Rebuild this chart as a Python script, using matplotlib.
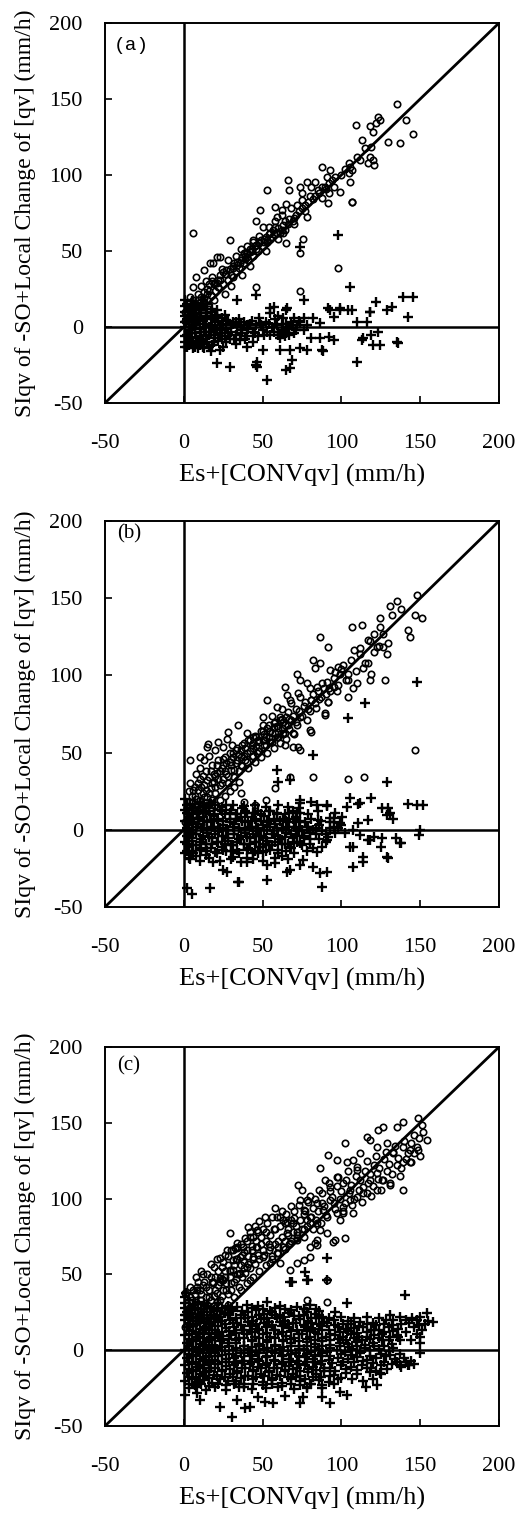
import numpy as np
import matplotlib
matplotlib.use("Agg")
import matplotlib.pyplot as plt

plt.rcParams["font.family"] = ["Liberation Serif", "DejaVu Serif"]
plt.rcParams["axes.unicode_minus"] = False

ticks = [-50, 0, 50, 100, 150, 200]
xlabel = "Es+[CONVqv] (mm/h)"
ylabel = "SIqv of -SO+Local Change of [qv] (mm/h)"
tags = ["(a)", "(b)", "(c)"]

# ---- panel (a) ----
a_circles = [
    (135, 147), (123.5, 138), (122, 134), (109, 133), (118, 132), (120, 128.5), (124.5, 136), (141, 136),
    (145.7, 127), (129.8, 122), (137, 121), (113, 123), (119, 118.6), (118, 112), (120, 110), (117, 108),
    (121, 106.6), (112, 110), (105.5, 105.5), (105, 101), (105.5, 95.6), (106.5, 82.5), (99, 89), (95, 92),
    (87.5, 105.5), (93, 103), (90.7, 99), (92, 88), (89.6, 92), (87.5, 84.6), (78, 95.6), (81, 92),
    (83, 95.6), (74, 92), (74.7, 88), (75, 83.5), (77, 80), (78, 72.6), (66, 96.7), (67, 90),
    (65, 81), (62, 77), (58, 79), (59, 72.6), (52.6, 90), (48.4, 77), (46, 70), (50.5, 66),
    (56.9, 63.8), (63, 61.6), (65, 55), (75.9, 58), (74, 48.5), (52.6, 57), (44, 57), (40, 53),
    (42, 49.6), (38, 48.5), (29.4, 57), (21, 46), (18.8, 42), (6, 61.6), (23, 46), (16.7, 42),
    (12.5, 37.5), (8, 33), (6, 26.5), (4, 20), (2, 15.6), (21, 28.7), (31.5, 33), (27, 37.5),
    (35.7, 42), (40, 46), (14.6, 22), (19, 17.8), (10, 13.4), (46, 26.5), (98, 38.6), (74, 24),
    (91.5, 81.6), (106.5, 82.4), (5, 8), (8, 10), (10, 14), (12, 16), (15, 18), (17, 21),
    (20, 24), (22, 26), (25, 28), (28, 31), (30, 34), (33, 37), (35, 39), (38, 42),
    (41, 44), (44, 47), (47, 50), (50, 53), (53, 56), (56, 59), (59, 62), (62, 64),
    (66, 68), (70, 72), (3, 12), (6, 18), (9, 22), (11, 27), (14, 30), (18, 33),
    (24, 38), (28, 44), (33, 47), (36, 51), (44, 56), (48, 60), (54, 66), (58, 70),
    (62, 74), (68, 78), (72, 80), (80, 86), (85, 90), (2, 4), (4, 6), (7, 5),
    (12, 8), (16, 12), (26, 22), (30, 27), (37, 34), (42, 40), (52, 50), (60, 58),
    (70, 68), (82, 84), (92, 95), (100, 100), (110, 112), (115, 118), (1, 10), (3, 16),
    (7, 14), (13, 19), (16, 24), (19, 28), (23, 31), (26, 35), (31, 39), (34, 43),
    (39, 47), (43, 51), (46, 54), (51, 58), (55, 62), (58, 66), (64, 70), (1, 4),
    (2, 8), (4, 10), (5, 14), (7, 16), (9, 18), (11, 20), (13, 23), (15, 25),
    (16, 28), (18, 30), (20, 29), (22, 31), (23, 34), (25, 36), (27, 35), (29, 38),
    (31, 40), (32, 42), (34, 41), (36, 44), (37, 46), (39, 45), (40, 49), (42, 51),
    (43, 50), (45, 53), (46, 51), (48, 55), (49, 57), (51, 56), (52, 59), (54, 61),
    (55, 58), (57, 61), (60, 65), (61, 62), (63, 67), (64, 64), (67, 71), (69, 70),
    (71, 74), (73, 76), (75, 78), (77, 76), (79, 82), (83, 86), (86, 88), (88, 92),
    (90, 91), (94, 97), (96, 99), (102, 104), (105, 108), (107, 103),
]
a_pluses = [
    (98, 60.5), (74, 52.8), (105.5, 26.5), (76, 17.8), (122, 16.7), (139, 20), (145.7, 20), (128.7, 11),
    (118, 10), (104.4, 11), (99, 11), (93, 11), (95, 6.8), (142.5, 6.8), (65, 11), (54.8, 12.3),
    (33.6, 17.8), (110, 3.5), (116, 3.5), (119, -5.3), (114, -7.5), (120, -11.8), (124.5, -11.8), (135, -9.6),
    (110, -22.8), (92, -6.4), (95, -8.5), (86.5, -7.5), (81, -7.5), (78, -15), (74, -14), (87.5, -15),
    (67.4, -15), (68.5, -21.7), (67.4, -27), (52.6, -34.9), (46.3, -22.8), (46.3, -26), (29.4, -26), (21, -24),
    (23, -15), (12.5, -14), (10.3, -11.8), (2, -13), (61, -15), (50.5, -15), (40, -13), (35.7, -8.5),
    (86.5, 2.4), (82, 5.7), (76, 5.7), (74, 3.5), (67, 0.2), (65, -4), (60, -5.3), (52.6, -3),
    (48.4, 2.4), (40, 1.3), (31.5, 3.5), (27, 4.6), (21, 6.8), (14.6, 6.8), (10.3, 9), (46, 21),
    (132, 13.4), (88.5, -15.6), (112.9, -8.6), (123.4, -3), (65.3, 12.3), (91.8, 12.3), (99.2, 12.3), (106.6, 11.2),
    (118.2, 10), (136.2, -10.8), (45.8, -24.8), (65, -28),
    (1, -10), (2, -5), (1, 0), (2, 5), (1, 10), (2, 15), (3, -12), (4, -7),
    (4, -2), (3, 3), (4, 8), (5, 13), (6, -14), (6, -9), (7, -4), (6, 1),
    (7, 6), (8, 11), (8, 16), (9, -11), (10, -6), (10, -1), (9, 4), (10, 9),
    (11, 14), (12, -13), (12, -8), (13, -3), (13, 2), (14, 7), (14, 12), (15, -10),
    (16, -5), (16, 0), (17, 5), (17, 10), (18, -12), (19, -7), (19, -2), (20, 3),
    (21, 8), (22, -9), (23, -4), (23, 1), (24, 6), (26, -6), (27, -1), (28, 4),
    (29, -8), (30, -3), (31, 2), (33, -5), (34, 0), (35, 5), (37, -2), (38, 3),
    (40, -6), (41, -1), (43, 4), (45, -4), (46, 1), (48, 6), (50, -2), (52, 3),
    (55, -5), (56, 0), (58, 5), (60, -3), (62, 2), (64, -6), (66, -1), (68, 3),
    (70, -4), (72, 1), (55, 9), (57, 13), (44, -10), (33, -11), (25, -13), (17, -16),
    (1, -13), (1, -6), (1, 3), (1, 7), (1, 14), (1, 18), (3, -9), (3, 0),
    (3, 6), (3, 12), (5, -11), (5, -4), (5, 4), (5, 10), (5, 17), (7, -13),
    (7, -1), (7, 9), (7, 14), (8, -7), (8, 2), (9, -14), (10, 5), (10, 13),
    (11, -9), (11, -3), (11, 11), (12, 4), (12, 18), (13, -11), (14, -6), (14, 0),
    (15, 9), (15, 15), (16, -13), (17, -3), (17, 7), (18, 1), (18, 12), (19, -10),
    (20, -5), (20, 6), (21, -1), (21, 11), (22, 4), (24, -8), (24, -2), (25, 2),
    (26, 8), (27, -10), (28, -4), (30, 1), (32, -8), (33, 3), (36, -4), (36, 1),
    (39, -8), (42, 2), (44, -3), (47, -6), (49, 1), (51, -5), (54, 2), (57, -3),
    (59, 1), (61, -7), (63, -2), (65, 2), (67, -5), (69, 1), (71, -2), (73, 4),
    (76, -2), (78, 1), (60, 7), (63, 6), (70, 6),
]

# ---- panel (b) ----
b_circles = [
    (147.8, 152), (135, 148), (131, 145), (138, 143), (124.5, 137), (132, 139), (124.5, 131.6), (126.6, 127),
    (121, 127), (117, 123), (106.6, 131.6), (113, 132.6), (142.5, 129.4), (143.5, 125), (151, 137), (146.7, 139),
    (107.7, 116.5), (112, 117.5), (122.4, 118.6), (126.6, 118.6), (128.7, 114), (129.8, 120.7), (117, 107.8), (114, 104.5),
    (119, 101), (127.7, 97), (118, 97), (104.4, 97), (109.7, 94.9), (107.5, 91.6), (104.4, 86.3), (98, 105.7),
    (99, 101), (93, 103.5), (86.5, 125), (91.8, 118.6), (95, 92.7), (91.8, 83), (81, 84), (89.6, 75.4),
    (80, 64.7), (84.4, 92.7), (78, 94.9), (83, 104.5), (86.5, 107.8), (82, 110), (74, 97), (71.6, 101),
    (72.7, 88.4), (67.4, 84), (64.3, 92.7), (65.4, 87.3), (59, 79.8), (52.6, 84), (61, 73.3), (57, 66.8),
    (51.6, 58), (63.2, 62.5), (69.5, 62.5), (69.5, 53.8), (74, 51.6), (64.3, 55), (44, 56), (46.3, 49.5),
    (40, 62.5), (34.7, 67.8), (28.3, 63.5), (27.3, 59), (22, 57), (14.6, 53.8), (10.4, 47.4), (4, 45),
    (146.7, 51.6), (15.6, 55.3), (25, 53.8), (30.4, 55), (50.4, 73), (81, 63.5), (82.2, 34.4), (104.4, 33),
    (114.3, 34.4), (67.4, 34.4), (58, 26.9), (72.7, 53.8), (89.6, 74.4), (91.7, 83),
    (2, 10), (3, 18), (5, 22), (4, 30), (6, 14), (8, 20), (9, 26), (10, 33),
    (11, 17), (12, 24), (13, 29), (14, 38), (15, 21), (16, 34), (17, 27), (18, 42),
    (19, 31), (20, 24), (21, 37), (22, 45), (23, 29), (24, 40), (25, 33), (26, 47),
    (27, 36), (28, 30), (29, 44), (30, 39), (31, 50), (32, 34), (33, 43), (34, 53),
    (35, 38), (36, 47), (37, 41), (38, 56), (39, 45), (40, 50), (41, 40), (42, 58),
    (43, 48), (44, 53), (45, 44), (46, 60), (47, 51), (48, 57), (49, 47), (50, 64),
    (51, 55), (52, 60), (53, 50), (54, 68), (55, 57), (56, 63), (57, 53), (58, 70),
    (59, 60), (60, 66), (61, 56), (62, 72), (63, 62), (64, 68), (65, 59), (66, 76),
    (67, 65), (68, 71), (70, 62), (71, 78), (72, 68), (74, 73), (76, 80), (78, 71),
    (80, 77), (82, 88), (84, 79), (86, 85), (88, 95), (90, 88), (92, 92), (95, 98),
    (97, 90), (100, 104), (103, 97), (106, 110), (109, 103), (112, 114), (115, 108), (118, 122),
    (121, 115), (124, 119), (3, 6), (6, 9), (9, 12), (12, 15), (15, 16), (18, 19),
    (7, 28), (10, 40), (13, 45), (16, 48), (8, 36), (20, 52), (11, 4), (14, 8),
    (17, 12), (20, 16), (23, 19), (26, 22), (29, 25), (32, 28), (35, 31), (20, 35),
    (25, 42), (30, 46), (36, 52), (44, 60), (50, 68), (56, 74), (62, 78), (68, 82),
    (74, 86), (80, 92), (38, 18), (45, 16), (52, 19), (36, 24),
    (1, 5), (2, 14), (3, 25), (4, 12), (5, 18), (6, 26), (7, 10), (7, 22),
    (8, 15), (9, 30), (10, 19), (11, 28), (12, 35), (13, 21), (14, 26), (15, 32),
    (16, 24), (17, 38), (18, 30), (19, 36), (20, 28), (21, 42), (22, 33), (23, 38),
    (24, 30), (25, 46), (26, 38), (27, 43), (28, 35), (29, 50), (30, 42), (31, 47),
    (32, 39), (33, 52), (34, 45), (35, 49), (36, 42), (37, 55), (38, 48), (39, 53),
    (40, 44), (41, 58), (42, 51), (43, 55), (44, 48), (45, 61), (46, 54), (47, 58),
    (48, 51), (49, 64), (50, 58), (51, 62), (52, 55), (53, 66), (54, 60), (55, 64),
    (56, 57), (57, 69), (58, 63), (59, 67), (60, 60), (61, 71), (62, 66), (63, 70),
    (64, 63), (65, 73), (66, 68), (67, 72), (69, 74), (71, 70), (73, 77), (75, 74),
    (77, 83), (79, 78), (81, 84), (83, 82), (85, 90), (87, 86), (89, 92), (91, 96),
    (93, 90), (96, 102), (98, 94), (101, 107), (104, 101),
]
b_pluses = [
    (147.8, 95.9), (115, 81.9), (104.4, 72.2), (82, 48.4), (58.9, 38.7), (60, 31.2), (67.4, 32.2), (128.7, 31.2),
    (105.5, 20.4), (110.7, 17), (119, 20.4), (129.8, 13.9), (142.5, 17), (81, 18.2), (73.7, 19.3), (90.6, 15.3),
    (85.4, 6.3), (92.7, 7.4), (99, 4.2), (107.5, -0.1), (111.9, -3.4), (118, -6.6), (107.5, -10.9), (114, -20.7),
    (107.5, -23.9), (129.8, -18.5), (137, -8.8), (125.5, -5.5), (90.6, -6.6), (84.3, -14.2), (75.8, -19.6), (90.6, -27.1),
    (87.4, -36.8), (65.3, -27.1), (52.6, -32.5), (35, -33.6), (25.1, -26), (16.6, -37.9), (1.8, -37.9), (18.7, -20.7),
    (52.6, -22.8), (57.8, -21.7), (39.9, -18.5), (31.4, -17.4), (73.7, -8.8), (82.2, -12), (48.4, -10.9), (71.6, 10.6),
    (147.8, 16), (152, 16), (150, -0.1), (149, -3.4), (128.7, -17.4), (114, -17.4), (138, -8.8), (134.8, -5.5),
    (125.3, -10.9), (120.7, -4.4), (116.6, -6.6), (105.5, -10.9), (128.7, 9.6), (125.5, 13.9), (111.8, 17.1), (103.4, 15),
    (110.8, 4.2), (117.1, 6.3), (100.2, 8.5), (95, 7.4), (92.8, 5.3), (91.7, -4.4), (87.5, -10.9), (86.5, -28.2),
    (82.2, -23.9), (90.7, 16), (84.3, 16), (73.7, 17.1), (67.4, -10.9), (34.7, -33.6), (27.5, -27.1), (5.2, -41.3),
    (74, -22.8), (67.4, -26.1), (40, -20.6), (131, 11), (133, 7), (98, 1), (102, -2),
    (1, -15), (1, -8), (1, -1), (1, 6), (1, 13), (1, 20), (3, -18), (3, -11),
    (3, -4), (3, 3), (3, 10), (4, 17), (5, -14), (5, -7), (6, 0), (6, 7),
    (6, 14), (8, -17), (8, -10), (8, -3), (9, 4), (9, 11), (10, 18), (11, -13),
    (11, -6), (12, 1), (12, 8), (13, 15), (14, -16), (14, -9), (15, -2), (15, 5),
    (16, 12), (17, -12), (18, -5), (18, 2), (19, 9), (20, 16), (21, -15), (21, -8),
    (22, -1), (22, 6), (23, 13), (24, -11), (25, -4), (25, 3), (26, 10), (27, -14),
    (28, -7), (28, 0), (29, 7), (30, 13), (31, -10), (32, -3), (32, 4), (33, 10),
    (34, -13), (35, -6), (35, 1), (36, 8), (37, 14), (38, -9), (39, -2), (39, 5),
    (40, 11), (41, -12), (42, -5), (42, 2), (43, 8), (44, -15), (45, -8), (46, -1),
    (46, 6), (47, 12), (48, -11), (49, -4), (50, 3), (51, 9), (52, -14), (53, -7),
    (53, 0), (54, 6), (55, 12), (56, -10), (57, -3), (58, 4), (59, 10), (60, -13),
    (61, -6), (62, 1), (63, 7), (64, -9), (65, -2), (66, 5), (67, 11), (68, -12),
    (69, -5), (70, 2), (71, 8), (72, -8), (73, -1), (74, 5), (76, -4), (78, 2),
    (80, -6), (82, 0), (84, -3), (86, 3), (88, -1), (90, -8), (93, 1), (96, -2),
    (100, 3), (4, -2), (10, -12), (16, 17), (27, 16), (47, -15), (62, -17), (78, -14),
    (2, 16), (7, 17), (12, 15.5), (17, 16.5), (24, 15), (31, 16), (38, 15.5), (45, 16),
    (52, 15), (60, 16), (66, 15), (73, 14),
    (2, 11), (5, 10), (9, 12), (14, 11), (19, 10.5), (24, 12), (29, 11), (34, 10),
    (39, 12), (44, 11), (49, 10.5), (54, 12), (59, 11), (64, 10), (69, 12), (74, 11),
    (79, 10), (85, 12), (96, 11),
    (2, 6), (5, 5), (9, 7), (13, 6), (17, 5.5), (21, 7), (25, 6), (29, 5),
    (33, 7), (37, 6), (41, 5.5), (45, 7), (49, 6), (53, 5), (57, 7), (61, 6),
    (65, 5.5), (69, 7), (73, 6), (77, 5), (81, 7), (87, 6), (95, 5),
    (2, 1), (5, 0), (8, 2), (11, 1), (15, 0.5), (19, 2), (23, 1), (27, 0),
    (31, 2), (35, 1), (39, 0.5), (43, 2), (47, 1), (51, 0), (55, 2), (59, 1),
    (63, 0.5), (67, 2), (71, 1), (75, 0), (79, 2), (84, 1), (90, -3), (95, 2),
    (2, -4), (5, -5), (8, -3), (12, -4), (16, -4.5), (20, -3), (24, -4), (28, -5),
    (32, -3), (36, -4), (40, -4.5), (44, -3), (48, -4), (52, -5), (56, -3), (60, -4),
    (64, -4.5), (68, -3), (72, -4), (76, -5), (80, -2), (86, -6),
    (2, -9), (6, -10), (10, -8), (14, -9), (18, -9.5), (22, -8), (26, -9), (30, -10),
    (34, -8), (38, -9), (42, -9.5), (46, -8), (50, -9), (54, -10), (58, -8), (62, -9),
    (66, -9.5), (70, -8), (75, -10), (80, -9),
    (2, -14), (6, -15), (10, -13), (15, -14), (20, -14.5), (25, -13), (30, -14), (35, -15),
    (40, -13), (45, -14), (50, -14.5), (55, -13), (60, -15), (65, -14), (70, -15),
    (4, -19), (10, -20), (16, -18.5), (23, -20), (30, -19), (36, -21), (44, -19), (50, -20),
    (58, -18.5), (66, -19),
]

# ---- panel (c) ----
c_circles = [
    (148.8, 153), (154, 138.7), (152, 144), (150.9, 148.5), (143.5, 132), (148.8, 132), (139.3, 150.7), (135, 147.4),
    (126.6, 147.4), (123.4, 145.3), (116, 140.9), (118, 138.7), (122.4, 134.3), (128.8, 136.4), (133, 131), (139.3, 124.4),
    (143.5, 124.4), (139.3, 105.6), (130.8, 109), (126.6, 112), (122.4, 116.6), (118, 112), (114, 107.9), (109.7, 118.8),
    (111.8, 129.8), (107.6, 125.4), (103.3, 124.4), (102.3, 136.4), (97, 125.4), (91.7, 128.8), (86.4, 120), (89.5, 112),
    (92.8, 107.9), (97, 114.4), (101.2, 110), (105.5, 105.6), (105.5, 99), (101.2, 94.7), (97, 90.3), (99, 85.9),
    (92.8, 99), (88.5, 92.5), (84.3, 96.8), (72.7, 109), (74.8, 105.6), (78, 99), (76, 92.5), (80, 88.1),
    (84.3, 83.7), (86.4, 79.3), (90.6, 77.1), (96, 72.7), (102.3, 73.8), (101.2, 90.3), (107.6, 90.3), (109.7, 101.2),
    (116, 103.4), (122.4, 105.6), (57.9, 93.6), (51.5, 88.1), (61, 88.1), (65.3, 84.8), (69.5, 83.7), (65.3, 77),
    (71.7, 72.7), (76, 74.9), (67.4, 70.5), (63.2, 68.3), (54.7, 68.3), (59, 63.9), (61, 57.3), (54.7, 57.3),
    (50.5, 61.7), (46.2, 79.3), (41, 81.5), (42, 74.9), (37.8, 68.3), (46.2, 68.3), (44, 61.7), (35.5, 61.7),
    (39.9, 55.1), (31.4, 59.5), (29.3, 77.1), (33.5, 70.5), (27.2, 66), (23, 60.6), (32.5, 67.2), (80, 68.3),
    (84.3, 72.7), (76, 59.5), (80, 61.7), (71.7, 57.3), (67.4, 52.9), (94.9, 71.6), (83.2, 70.5), (22.9, 47.4),
    (29.3, 52.9), (35.5, 50.7), (42, 46.3), (12.4, 43), (18.7, 45.2), (8.2, 41.9), (33.5, 67.2), (78, 33.1),
    (90.6, 32), (76.9, 26.5), (67.4, 25.4), (90.6, 46.3), (84.3, 69.4), (8.2, 39.7), (18.7, 44.1), (25, 46.3),
    (2, 30), (3, 22), (4, 35), (5, 27), (6, 40), (7, 18), (8, 32), (9, 45),
    (10, 25), (11, 37), (12, 50), (13, 29), (14, 42), (15, 20), (16, 35), (17, 48),
    (18, 27), (19, 55), (20, 40), (21, 32), (22, 52), (23, 45), (24, 36), (25, 58),
    (26, 48), (27, 40), (28, 62), (29, 52), (30, 44), (31, 66), (32, 56), (33, 47),
    (34, 60), (35, 50), (36, 70), (37, 63), (38, 54), (39, 74), (40, 66), (41, 57),
    (42, 78), (43, 69), (44, 60), (45, 82), (46, 72), (47, 63), (48, 85), (49, 75),
    (50, 66), (52, 78), (54, 70), (56, 88), (58, 80), (60, 72), (62, 92), (64, 84),
    (66, 76), (68, 95), (70, 87), (72, 78), (74, 99), (76, 90), (78, 82), (80, 102),
    (82, 94), (84, 86), (86, 106), (88, 97), (90, 89), (92, 110), (94, 101), (96, 93),
    (98, 114), (100, 105), (102, 97), (104, 118), (106, 109), (108, 100), (110, 121), (112, 112),
    (114, 104), (116, 125), (118, 116), (120, 108), (122, 128), (124, 120), (126, 112), (128, 131),
    (130, 123), (132, 116), (134, 135), (136, 127), (138, 120), (140, 138), (142, 130), (144, 124),
    (146, 142), (148, 134), (150, 128), (3, 12), (6, 15), (9, 19), (12, 22), (16, 17),
    (20, 22), (24, 26), (28, 30), (32, 35), (36, 40), (40, 44), (44, 48), (48, 52),
    (52, 56), (56, 60), (60, 64), (64, 67), (68, 72), (72, 76), (76, 80), (80, 84),
    (1, 15), (1, 38), (2, 24), (3, 28), (4, 18), (4, 42), (5, 33), (6, 22),
    (7, 37), (7, 26), (8, 48), (9, 30), (10, 40), (10, 20), (11, 33), (11, 52),
    (12, 27), (13, 45), (14, 35), (14, 24), (15, 50), (15, 30), (16, 40), (17, 33),
    (17, 57), (18, 45), (19, 36), (19, 29), (20, 48), (21, 60), (21, 38), (22, 43),
    (23, 33), (24, 55), (24, 47), (25, 40), (26, 63), (26, 52), (27, 44), (28, 37),
    (28, 56), (29, 48), (30, 66), (30, 40), (31, 53), (32, 45), (33, 60), (34, 50),
    (34, 68), (35, 42), (36, 56), (37, 48), (38, 65), (38, 58), (39, 51), (40, 72),
    (41, 62), (42, 54), (43, 66), (44, 75), (45, 57), (46, 68), (47, 78), (48, 60),
    (49, 70), (50, 80), (51, 63), (52, 72), (53, 84), (54, 66), (55, 76), (56, 62),
    (57, 80), (58, 70), (59, 88), (60, 68), (61, 82), (62, 75), (63, 86), (64, 72),
    (65, 90), (66, 80), (67, 70), (68, 86), (69, 78), (70, 92), (71, 82), (72, 74),
    (73, 96), (74, 86), (75, 80), (77, 92), (78, 86), (79, 98), (81, 88), (82, 80),
    (83, 100), (85, 92), (87, 84), (88, 104), (89, 95), (91, 88), (93, 105), (95, 97),
    (97, 108), (99, 100), (101, 92), (103, 112), (105, 104), (107, 96), (109, 115), (111, 106),
    (113, 98), (115, 118), (117, 110), (119, 102), (121, 122), (123, 113), (125, 106), (127, 126),
    (129, 118), (131, 110), (133, 130), (135, 122), (137, 115), (139, 134), (141, 126), (144, 137),
    (146, 130), (149, 140),
]
c_pluses = [
    (90.7, 60.6), (76.9, 51.8), (79, 46.3), (90.7, 46.3), (67.4, 45.2), (140.3, 36.4), (103.3, 30.9), (95.9, 25.4),
    (78, 46.3), (68.4, 45.2), (154, 24.3), (158.3, 18.7), (149.9, 8.9), (149.9, -2), (142.4, -9.8), (137.2, -9.8),
    (122.4, -22.9), (115.9, -24.1), (124.5, -15.3), (103.3, -29.6), (99.1, -27.4), (92.8, -35.1), (87.5, -30.7), (75.9, -30.7),
    (73.7, -35.1), (56.8, -35.1), (51.5, -34), (42, -37.3), (38.8, -38.4), (33.5, -32.9), (23, -37.3), (30.4, -43.9),
    (10.3, -32.9), (8.2, -28.5), (0.7, -29.6), (78, -25.2), (64, -30), (47, -31),
    (1, 31), (3, 33), (6, 29.5), (9, 32), (13, 30.5), (17, 28), (22, 31), (28, 29), (34, 28.5), (40, 30),
    (47, 29), (53, 31.5), (58, 28), (64, 27), (72, 28.5), (80, 30), (84, 27.5),
    (2, 25), (5, 26.5), (9, 24), (13, 25.5), (17, 23.5), (21, 26), (26, 24.5), (31, 26), (36, 23),
    (41, 25), (46, 26.5), (51, 24), (56, 25.5), (61, 23.5), (67, 24.5), (73, 22.5), (78, 25), (83, 24), (88, 22),
    (1, 20), (4, 21.5), (8, 19), (12, 20.5), (16, 18.5), (20, 21), (24, 19.5), (29, 20), (34, 18), (39, 21),
    (44, 19), (49, 20.5), (54, 18.5), (59, 21), (64, 19.5), (69, 18), (74, 20.5), (79, 19), (84, 21), (89, 18.5),
    (95, 20), (104, 19.5), (112, 18.8), (120, 17.7), (128, 19.9), (133, 19.9), (141, 19.8), (148, 19.8), (153, 17),
    (2, 15), (6, 16), (10, 14), (14, 15.5), (18, 13.5), (22, 16), (27, 14.5), (32, 15), (37, 13), (42, 16),
    (47, 14), (52, 15.5), (57, 13.5), (62, 16), (67, 14.5), (72, 13), (77, 15.5), (82, 14), (87, 16), (92, 13.5),
    (98, 15), (103, 14), (108, 14.4), (114, 15.5), (119, 13.5), (124, 13.3), (130, 15), (136, 14), (146, 15.5), (151, 13.3),
    (1, 10), (5, 11), (9, 9), (13, 10.5), (17, 8.5), (21, 11), (25, 9.5), (30, 10), (35, 8), (40, 11),
    (45, 9), (50, 10.5), (55, 8.5), (60, 11), (65, 9.5), (70, 8), (75, 10.5), (80, 9), (85, 11), (90, 8.5),
    (96, 10), (101, 9), (106, 10.5), (111, 8.5), (116, 8.9), (121, 10), (126, 11), (131, 8.9), (135, 10),
    (2, 5), (6, 6), (10, 4), (14, 5.5), (18, 3.5), (23, 6), (28, 4.5), (33, 5), (38, 3), (43, 6),
    (48, 4), (53, 5.5), (58, 3.5), (63, 6), (68, 4.5), (73, 3), (78, 5.5), (83, 4), (88, 6), (93, 3.5),
    (99, 5), (104, 4), (109, 5.5), (115, 3.5), (120, 5), (126, 6.7), (132, 4), (137.2, 6.7), (150, 5),
    (1, 0), (5, 1), (9, -1), (13, 0.5), (17, -1.5), (21, 1), (26, -0.5), (31, 0), (36, -2), (41, 1),
    (46, -1), (51, 0.5), (56, -1.5), (61, 1), (66, -0.5), (71, -2), (76, 0.5), (81, -1), (86, 1), (91, -1.5),
    (97, 0), (102, -1), (107, 0.5), (112, -1.5), (118, 0), (124, 1), (130, -0.5),
    (2, -5), (6, -4), (10, -6), (14, -4.5), (18, -6.5), (22, -4), (27, -5.5), (32, -5), (37, -7), (42, -4),
    (47, -6), (52, -4.5), (57, -6.5), (62, -4), (67, -5.5), (72, -7), (77, -4.5), (82, -6), (87, -4), (92, -6.5),
    (98, -5), (104, -6), (110, -4.5), (116, -6.5), (122, -5), (128, -4), (134, -6), (140, -5),
    (1, -10), (5, -9), (9, -11), (13, -9.5), (17, -11.5), (22, -9), (27, -10.5), (32, -10), (37, -12), (42, -9),
    (47, -11), (52, -9.5), (57, -11.5), (62, -9), (67, -10.5), (72, -12), (77, -9.5), (82, -11), (87, -9), (93, -11.5),
    (100, -10), (106, -11), (113, -9.5), (119, -11.5), (125, -10), (132, -9), (138, -11), (143, -10),
    (2, -15), (6, -14), (10, -16), (14, -14.5), (19, -16.5), (24, -14), (29, -15.5), (34, -15), (39, -17), (44, -14),
    (49, -16), (54, -14.5), (59, -16.5), (64, -14), (69, -15.5), (74, -17), (79, -14.5), (84, -16), (89, -14), (95, -16.5),
    (103, -15), (110, -16), (118, -14.5), (125, -16),
    (1, -20), (5, -19), (9, -21), (13, -19.5), (18, -21.5), (23, -19), (28, -20.5), (33, -20), (38, -22), (44, -19),
    (50, -21), (56, -19.5), (62, -21.5), (68, -19), (74, -20.5), (80, -22), (86, -19.5), (92, -21), (98, -19),
    (3, -25), (8, -24), (14, -26), (20, -24.5), (27, -26.5), (35, -24), (43, -25.5), (52, -25), (60, -24), (70, -25.5),
    (78, -24.5), (88, -25),
    (3.5, 27.5), (7, 28), (11, 27), (15, 29), (19, 26.5), (24, 28), (30, 27.5), (37, 26), (43, 28), (50, 27),
    (55, 26), (61, 29), (68, 26.5), (76, 27), (86, 26),
    (1.5, 23), (6, 22), (10.5, 22.5), (15, 21.5), (19, 23.5), (23, 22), (28, 23), (33, 21.5), (38, 23.5), (43, 22),
    (48, 23), (53, 21.5), (58, 23.5), (63, 22), (70, 22.5), (76, 23), (81, 21.5), (86, 23), (92, 21), (100, 22),
    (108, 21.5), (116, 22), (124, 21), (131, 23), (137, 22), (145, 21.5), (150, 22),
    (3.5, 17.5), (8, 17), (12.5, 18), (17, 17), (21.5, 18.5), (26, 17), (31, 18), (36, 16.5), (41, 18.5), (46, 17),
    (51, 18), (56, 16.5), (61, 18.5), (66, 17), (71, 18), (76, 16.5), (81, 18), (86, 17), (91, 18), (96, 16.5),
    (101, 17.5), (106, 17), (111, 16), (116, 17.5), (122, 16.5), (127, 17), (132, 16.5), (138, 17), (143, 18), (149, 16.5),
    (155, 19),
    (3.5, 12.5), (8, 12), (12, 13), (16, 11.5), (20, 13), (24, 12), (28.5, 12.5), (33, 11.5), (38, 13), (43, 12),
    (48, 13), (53, 11.5), (58, 13), (63, 12), (68, 12.5), (73, 11), (78, 12.5), (83, 12), (88, 13), (93, 11),
    (99, 12), (104, 12.5), (110, 11.5), (116, 12), (121, 13), (127, 12), (133, 12.5), (141, 12), (148, 11),
    (3.5, 7.5), (8, 7), (12, 8), (16, 6.5), (20, 8), (24, 7), (28.5, 7.5), (33, 6.5), (38, 8), (43, 7),
    (48, 8), (53, 6.5), (58, 8), (63, 7), (68, 7.5), (73, 6), (78, 7.5), (83, 7), (88, 8), (93, 6.5),
    (98, 7.5), (103, 7), (108, 8), (113, 6.5), (118, 7.5), (124, 8), (130, 7), (136, 8.5), (144, 7),
    (3.5, 2.5), (8, 2), (12, 3), (16, 1.5), (20, 3), (24, 2), (28.5, 2.5), (33, 1.5), (38, 3), (43, 2),
    (48, 3), (53, 1.5), (58, 3), (63, 2), (68, 2.5), (73, 1), (78, 2.5), (83, 2), (88, 3), (93, 1.5),
    (99, 2.5), (105, 2), (110, 3), (115, 1.5), (121, 2.5), (127, 3), (133, 1.5),
    (3.5, -2.5), (8, -3), (12, -2), (16, -3.5), (20, -2), (24, -3), (28.5, -2.5), (33, -3.5), (38, -2), (43, -3),
    (48, -2), (53, -3.5), (58, -2), (63, -3), (68, -2.5), (73, -4), (78, -2.5), (83, -3), (88, -2), (93, -3.5),
    (100, -2.5), (106, -3), (112, -2), (118, -3.5), (125, -2.5), (131, -3), (137, -2.5), (144, -7),
    (3.5, -7.5), (8, -8), (12, -7), (16, -8.5), (20, -7), (24, -8), (28.5, -7.5), (33, -8.5), (38, -7), (43, -8),
    (48, -7), (53, -8.5), (58, -7), (63, -8), (68, -7.5), (73, -9), (78, -7.5), (83, -8), (88, -7), (94, -8.5),
    (101, -7.5), (108, -8), (114, -7), (120, -8.5), (127, -7.5), (135, -8), (141, -7.5), (146, -9),
    (3.5, -12.5), (8, -13), (12, -12), (16, -13.5), (20, -12), (24, -13), (29, -12.5), (34, -13.5), (39, -12), (44, -13),
    (49, -12), (54, -13.5), (59, -12), (64, -13), (69, -12.5), (74, -14), (79, -12.5), (84, -13), (89, -12), (96, -13.5),
    (103, -12.5), (110, -13), (116, -12), (122, -13.5), (129, -12.5),
    (3.5, -17.5), (8, -18), (12, -17), (16, -18.5), (21, -17), (26, -18), (31, -17.5), (36, -18.5), (41, -17), (46, -18),
    (51, -17), (56, -18.5), (61, -17), (66, -18), (71, -17.5), (77, -19), (82, -17.5), (87, -18), (93, -17), (100, -18.5),
    (107, -19), (114, -20), (120, -19),
    (3, -22.5), (7, -23), (11, -22), (16, -23.5), (22, -22), (27, -23), (32, -22.5), (38, -24), (44, -22), (50, -23),
    (56, -22), (62, -23.5), (68, -22), (74, -23), (81, -22.5), (88, -23), (95, -22),
    (0.5, 35), (1.5, 38), (1, 28), (0.5, 23),
]

panels = [(a_circles, a_pluses), (b_circles, b_pluses), (c_circles, c_pluses)]

W, H = 517, 1521
# axes rectangles in pixels: left, top, right, bottom
rects_px = [(105, 23, 499, 403), (105, 521, 499, 907), (105, 1047, 499, 1426)]
tag_pos = [(0.022, 0.942), (0.03, 0.966), (0.03, 0.95)]
tag_fonts = ["Liberation Mono", "Liberation Serif", "Liberation Serif"]

fig = plt.figure(figsize=(W / 100, H / 100), dpi=100)

for i, ((circ, plus), (l, t, r, b)) in enumerate(zip(panels, rects_px)):
    ax = fig.add_axes([l / W, 1 - b / H, (r - l) / W, (b - t) / H])
    cx, cy = np.array(circ).T
    px, py = np.array(plus).T
    ax.plot(cx, cy, "o", mfc="none", mec="k", ms=4.6, mew=1.2, zorder=2)
    ax.plot(px, py, "+", color="k", ms=7, mew=1.7, zorder=2)
    ax.plot([-50, 200], [-50, 200], color="k", lw=2.0, zorder=3)
    ax.axhline(0, color="k", lw=1.8, zorder=3)
    ax.axvline(0, color="k", lw=1.8, zorder=3)

    ax.set_xlim(-50, 200); ax.set_ylim(-50, 200)
    ax.set_xticks(ticks); ax.set_yticks(ticks)
    ax.tick_params(direction="in", length=5, width=1.2, labelsize=16)
    ax.tick_params(axis="x", pad=22)
    ax.tick_params(axis="y", pad=16)
    for s in ax.spines.values():
        s.set_linewidth(1.4)

    ax.set_xlabel(xlabel, fontsize=19, labelpad=8)
    ax.set_ylabel(ylabel, fontsize=17, labelpad=10)
    ax.text(tag_pos[i][0], tag_pos[i][1], tags[i], transform=ax.transAxes,
            ha="left", va="center", fontsize=14 if i == 0 else 15, family=tag_fonts[i])

fig.savefig("out.png", dpi=100)
